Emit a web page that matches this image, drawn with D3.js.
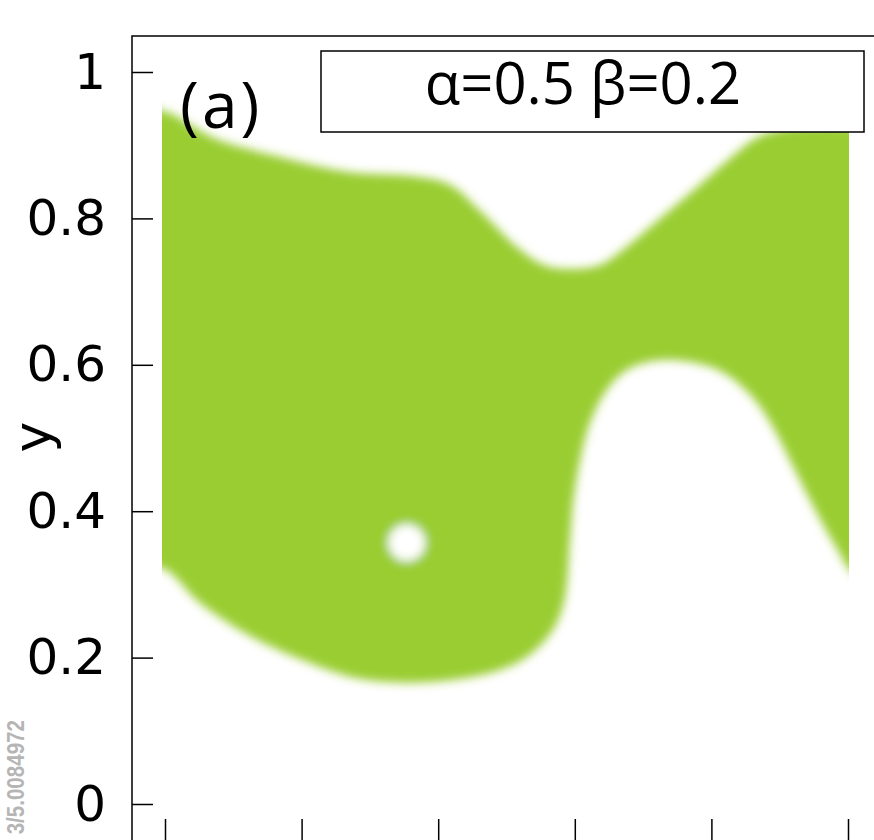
<!DOCTYPE html>
<html>
<head>
<meta charset="utf-8">
<script src="https://cdn.jsdelivr.net/npm/d3@7/dist/d3.min.js"></script>
<style>
  html, body { margin: 0; padding: 0; background: #fff; }
  svg { display: block; }
</style>
</head>
<body>
<svg id="chart" width="874" height="840"></svg>
<script>
// Basin boundary in (x, y) units: upper edge of the green region, left to right
const upperEdge = [
  [-0.05, 0.947], [-0.003, 0.947], [0.076, 0.908], [0.173, 0.883], [0.271, 0.863],
  [0.369, 0.857], [0.417, 0.846], [0.465, 0.807], [0.515, 0.761], [0.556, 0.736],
  [0.593, 0.731], [0.636, 0.736], [0.670, 0.757], [0.710, 0.788], [0.783, 0.846],
  [0.827, 0.882], [0.868, 0.911], [0.914, 0.923], [1.001, 0.926], [1.05, 0.926]
];
// Lower edge of the green region, left to right
const lowerEdge = [
  [-0.05, 0.322], [-0.003, 0.322], [0.051, 0.275], [0.124, 0.230], [0.198, 0.198],
  [0.271, 0.174], [0.344, 0.166], [0.417, 0.169], [0.490, 0.183], [0.534, 0.204],
  [0.568, 0.238], [0.585, 0.279], [0.593, 0.361], [0.598, 0.415], [0.607, 0.466],
  [0.622, 0.520], [0.647, 0.566], [0.676, 0.593], [0.720, 0.606], [0.768, 0.604],
  [0.816, 0.590], [0.860, 0.556], [0.890, 0.515], [0.919, 0.462], [0.954, 0.398],
  [0.988, 0.342], [1.001, 0.322], [1.05, 0.290]
];
// Small excluded pocket inside the basin: [x, y, radius]
const holes = [[0.354, 0.357, 0.027]];

const xTicks = [0, 0.2, 0.4, 0.6, 0.8, 1];
const yTicks = [0, 0.2, 0.4, 0.6, 0.8, 1];
const yTickLabels = ["0", "0.2", "0.4", "0.6", "0.8", "1"];
const panelLabel = "(a)";
const legendText = "α=0.5 β=0.2";
const doiText = "3/5.0084972";

const svg = d3.select("#chart");

const x = d3.scaleLinear().domain([0, 1]).range([165, 848]);
const y = d3.scaleLinear().domain([0, 1]).range([804, 72]);

// soft edge of the raster-like basin
const defs = svg.append("defs");
const blur = defs.append("filter").attr("id", "soft")
  .attr("x", "-10%").attr("y", "-10%").attr("width", "120%").attr("height", "120%");
blur.append("feGaussianBlur").attr("stdDeviation", 4.8);
defs.append("clipPath").attr("id", "field")
  .append("rect")
  .attr("x", x(-0.0045)).attr("y", 36)
  .attr("width", x(1.0015) - x(-0.0045)).attr("height", 804 - 36);

const outline = upperEdge.concat(lowerEdge.slice().reverse());
const shape = d3.line()
  .x(d => x(d[0])).y(d => y(d[1]))
  .curve(d3.curveCatmullRomClosed.alpha(0.5));

const field = svg.append("g").attr("clip-path", "url(#field)")
  .append("g").attr("filter", "url(#soft)");
field.append("path").attr("d", shape(outline)).attr("fill", "#9acd32");
field.selectAll("circle.hole").data(holes).join("circle")
  .attr("class", "hole")
  .attr("cx", d => x(d[0])).attr("cy", d => y(d[1]))
  .attr("r", d => x(d[2]) - x(0))
  .attr("fill", "#fff");

// frame (left and top sides visible)
svg.append("path")
  .attr("d", "M132,845V36H880")
  .attr("fill", "none").attr("stroke", "#000").attr("stroke-width", 1.5);

// y axis: ticks point inward, labels on the left
const yAxis = d3.axisLeft(y)
  .tickValues(yTicks)
  .tickFormat((d, i) => yTickLabels[i])
  .tickSizeInner(-21).tickSizeOuter(0).tickPadding(26);
const gy = svg.append("g").attr("transform", "translate(132,0)").call(yAxis);
gy.select(".domain").remove();
gy.selectAll(".tick line").attr("stroke", "#000").attr("stroke-width", 1.5);
gy.selectAll(".tick text")
  .attr("font-family", "DejaVu Sans").attr("font-size", 50).attr("fill", "#000");

// x axis sits just below the visible area; only its inward ticks show
const xAxis = d3.axisBottom(x)
  .tickValues(xTicks).tickFormat(() => "")
  .tickSizeInner(-22).tickSizeOuter(0);
const gx = svg.append("g").attr("transform", "translate(0,841)").call(xAxis);
gx.select(".domain").remove();
gx.selectAll(".tick line").attr("stroke", "#000").attr("stroke-width", 1.5);

// axis title
svg.append("text")
  .attr("transform", "translate(50,437) rotate(-90)")
  .attr("text-anchor", "middle")
  .attr("font-family", "DejaVu Sans").attr("font-size", 52)
  .text("y");

// panel label
svg.append("text")
  .attr("x", 180).attr("y", 128)
  .attr("font-family", "Open Sans").attr("font-size", 64)
  .attr("letter-spacing", 3)
  .text(panelLabel);

// parameter box
svg.append("rect")
  .attr("x", 321).attr("y", 51).attr("width", 543).attr("height", 81)
  .attr("fill", "#fff").attr("stroke", "#000").attr("stroke-width", 1.5);
svg.append("text")
  .attr("x", 583).attr("y", 104)
  .attr("text-anchor", "middle")
  .attr("font-family", "Open Sans").attr("font-size", 58)
  .text(legendText);

// DOI strip along the left margin (condensed bold, reads bottom to top)
svg.append("text")
  .attr("transform", "translate(24,720) rotate(-90) scale(0.84,1)")
  .attr("text-anchor", "end")
  .attr("font-family", "Liberation Sans")
  .attr("font-weight", "bold").attr("font-size", 24.5)
  .attr("fill", "#b5b5b5")
  .text(doiText);
</script>
</body>
</html>
